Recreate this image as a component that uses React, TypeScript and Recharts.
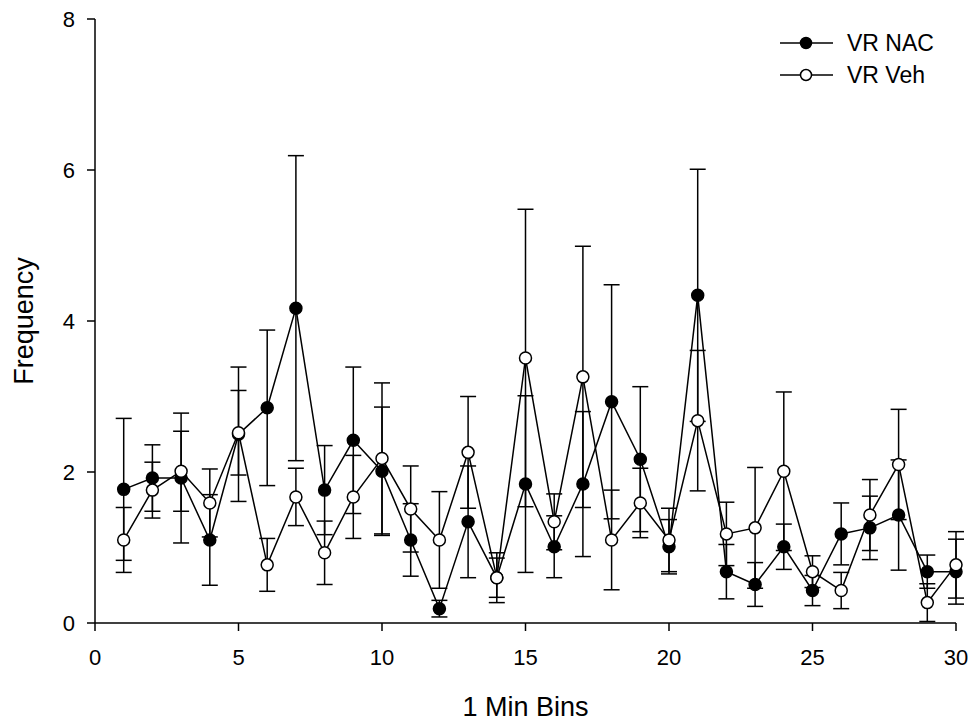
import { LineChart, Line, XAxis, YAxis, ErrorBar, Legend } from 'recharts';

const bins = [1, 2, 3, 4, 5, 6, 7, 8, 9, 10, 11, 12, 13, 14, 15, 16, 17, 18, 19, 20, 21, 22, 23, 24, 25, 26, 27, 28, 29, 30];

const nac = [1.77, 1.92, 1.92, 1.10, 2.50, 2.85, 4.17, 1.76, 2.42, 2.01, 1.10, 0.19, 1.34, 0.60, 1.84, 1.01, 1.84, 2.93, 2.17, 1.01, 4.34, 0.68, 0.51, 1.01, 0.43, 1.18, 1.26, 1.43, 0.68, 0.68];
const nacErr = [0.94, 0.44, 0.86, 0.60, 0.89, 1.03, 2.02, 0.59, 0.97, 0.85, 0.48, 0.11, 0.74, 0.33, 1.17, 0.41, 0.96, 1.55, 0.96, 0.36, 1.67, 0.36, 0.29, 0.30, 0.20, 0.41, 0.42, 0.73, 0.22, 0.43];

const veh = [1.10, 1.76, 2.01, 1.59, 2.52, 0.77, 1.67, 0.93, 1.67, 2.18, 1.51, 1.10, 2.26, 0.60, 3.51, 1.34, 3.26, 1.10, 1.59, 1.10, 2.68, 1.18, 1.26, 2.01, 0.68, 0.43, 1.43, 2.10, 0.27, 0.77];
const vehErr = [0.43, 0.37, 0.53, 0.45, 0.56, 0.35, 0.38, 0.42, 0.55, 1.00, 0.57, 0.64, 0.74, 0.26, 1.97, 0.37, 1.73, 0.66, 0.46, 0.42, 0.93, 0.42, 0.80, 1.05, 0.21, 0.24, 0.47, 0.73, 0.25, 0.44];

const xTicks = [0, 5, 10, 15, 20, 25, 30];
const yTicks = [0, 2, 4, 6, 8];

const data = bins.map((b, i) => ({
    bin: b,
    nac: nac[i],
    nacErr: nacErr[i],
    veh: veh[i],
    vehErr: vehErr[i],
}));

const FONT = '"Liberation Sans", Arial, sans-serif';
const tickStyle = { fontFamily: FONT, fontSize: 22, fill: '#000' };

const renderLegend = () => {
    const rows = [
        { label: 'VR NAC', fill: '#000' },
        { label: 'VR Veh', fill: '#fff' },
    ];
    return (
        <svg width={190} height={70}>
            {rows.map((r, i) => {
                const y = 18 + i * 32;
                return (
                    <g key={r.label}>
                        <line x1={5} x2={58} y1={y} y2={y} stroke="#000" strokeWidth={1.5} />
                        <circle cx={31} cy={y} r={5.5} fill={r.fill} stroke="#000" strokeWidth={1.5} />
                        <text x={72} y={y + 8} fontFamily={FONT} fontSize={23} fill="#000">{r.label}</text>
                    </g>
                );
            })}
        </svg>
    );
};

export default function App() {
    return (
        <div style={{ position: 'absolute', left: 0, top: 0, width: 972, height: 721, background: '#fff', fontFamily: FONT }}>
            <LineChart width={972} height={721} data={data} margin={{ top: 19, right: 16, left: 0, bottom: 0 }}>
                <XAxis
                    dataKey="bin"
                    type="number"
                    domain={[0, 30]}
                    ticks={xTicks}
                    height={98}
                    tickSize={8}
                    tickMargin={18}
                    tick={tickStyle}
                    axisLine={{ stroke: '#000', strokeWidth: 1.5 }}
                    tickLine={{ stroke: '#000', strokeWidth: 1.5 }}
                    label={{ value: '1 Min Bins', position: 'insideBottom', offset: 5, style: { fontFamily: FONT, fontSize: 27, fill: '#000' } }}
                />
                <YAxis
                    type="number"
                    domain={[0, 8]}
                    ticks={yTicks}
                    width={95}
                    tickSize={8}
                    tickMargin={12}
                    tick={tickStyle}
                    axisLine={{ stroke: '#000', strokeWidth: 1.5 }}
                    tickLine={{ stroke: '#000', strokeWidth: 1.5 }}
                    label={{ value: 'Frequency', angle: -90, position: 'insideLeft', offset: 23, style: { textAnchor: 'middle', fontFamily: FONT, fontSize: 27, fill: '#000' } }}
                />
                <Legend
                    layout="vertical"
                    align="center"
                    verticalAlign="middle"
                    content={renderLegend}
                    wrapperStyle={{ left: 775, top: 25, width: 190, height: 70 }}
                />
                <Line
                    dataKey="nac"
                    name="VR NAC"
                    stroke="#000"
                    strokeWidth={1.5}
                    dot={{ r: 6, fill: '#000', stroke: '#000', strokeWidth: 1.5 }}
                    activeDot={false}
                    isAnimationActive={false}
                >
                    <ErrorBar dataKey="nacErr" width={8} stroke="#000" strokeWidth={1.5} direction="y" />
                </Line>
                <Line
                    dataKey="veh"
                    name="VR Veh"
                    stroke="#000"
                    strokeWidth={1.5}
                    dot={{ r: 6, fill: '#fff', stroke: '#000', strokeWidth: 1.5 }}
                    activeDot={false}
                    isAnimationActive={false}
                >
                    <ErrorBar dataKey="vehErr" width={8} stroke="#000" strokeWidth={1.5} direction="y" />
                </Line>
            </LineChart>
        </div>
    );
}
